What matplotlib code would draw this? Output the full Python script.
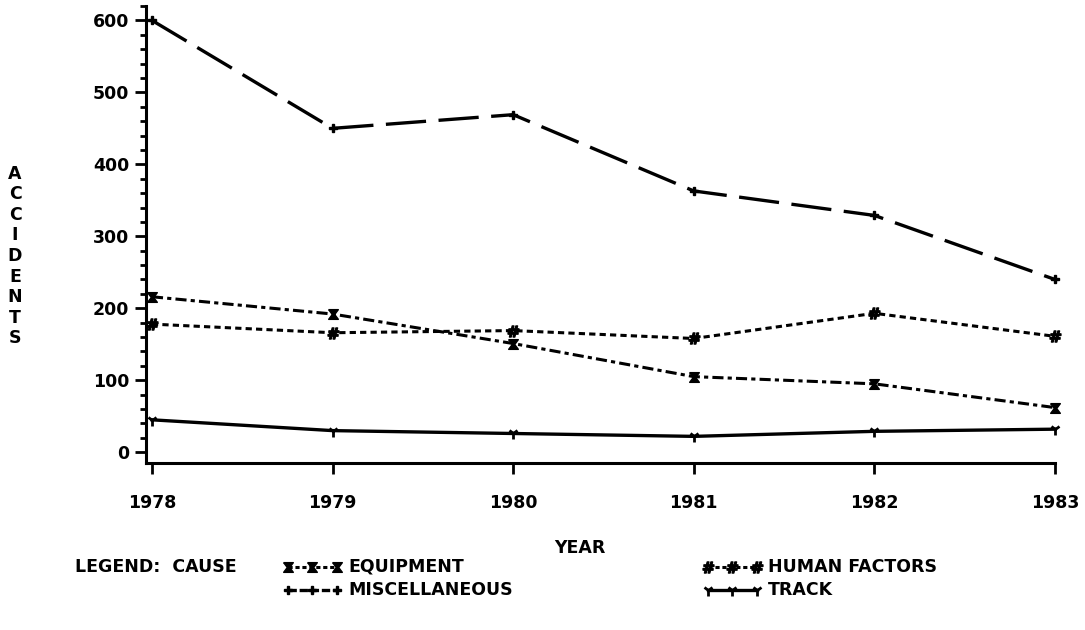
import matplotlib
matplotlib.use("Agg")
import matplotlib.pyplot as plt
from matplotlib.ticker import MultipleLocator

years = [1978, 1979, 1980, 1981, 1982, 1983]
equipment = [216, 192, 151, 105, 95, 62]
human_factors = [178, 166, 169, 158, 193, 161]
miscellaneous = [600, 450, 469, 363, 329, 240]
track = [45, 30, 26, 22, 29, 32]
y_ticks = [0, 100, 200, 300, 400, 500, 600]

plt.rcParams['font.family'] = ['DejaVu Sans']
plt.rcParams['font.weight'] = 'bold'
plt.rcParams['lines.scale_dashes'] = False
FS = 12.5

hourglass = [(-1, 1), (1, 1), (0.25, 0), (1, -1), (-1, -1), (-0.25, 0), (-1, 1)]

styles = {
    'EQUIPMENT': dict(color='black', lw=2.2, dashes=(8, 3, 3, 3), marker=hourglass, ms=7),
    'HUMAN FACTORS': dict(color='black', lw=2.2, dashes=(4.5, 3), marker=r'$\#$', ms=8),
    'MISCELLANEOUS': dict(color='black', lw=2.4, dashes=(29, 9), marker='P', ms=6),
    'TRACK': dict(color='black', lw=2.4, linestyle='-', marker='1', ms=8, mew=2.0),
}
series = {
    'EQUIPMENT': equipment,
    'HUMAN FACTORS': human_factors,
    'MISCELLANEOUS': miscellaneous,
    'TRACK': track,
}

fig = plt.figure(figsize=(10.85, 6.3), dpi=100)
W, H = 1085, 630
ax = fig.add_axes([146 / W, 1 - 463 / H, (1055 - 146) / W, (463 - 6) / H])

for name, vals in series.items():
    st = dict(styles[name])
    d = st.pop('dashes', None)
    ln, = ax.plot(years, vals, clip_on=False, **st)
    if d is not None:
        ln.set_dashes(d)

ax.set_xlim(1977.967, 1983.0)
ax.set_ylim(-15, 620)
for s in ['top', 'right']:
    ax.spines[s].set_visible(False)
for s in ['left', 'bottom']:
    ax.spines[s].set_linewidth(2.2)

ax.set_xticks(years)
ax.set_xticklabels([str(y) for y in years], fontsize=FS, fontweight='bold')
ax.set_yticks(y_ticks)
ax.set_yticklabels([str(v) for v in y_ticks], fontsize=FS, fontweight='bold')
ax.yaxis.set_minor_locator(MultipleLocator(20))
ax.tick_params(axis='x', direction='out', length=8, width=2, pad=14)
ax.tick_params(axis='y', which='major', direction='out', length=8, width=2, pad=4)
ax.tick_params(axis='y', which='minor', direction='out', length=4, width=2)

# y label as stacked letters
fig.text(15 / W, 1 - 256 / H, "\n".join("ACCIDENTS"), ha='center', va='center',
         fontsize=FS, fontweight='bold', linespacing=1.18)
# x label
fig.text(580 / W, 1 - 548 / H, "YEAR", ha='center', va='center',
         fontsize=FS, fontweight='bold')

# Legend
lax = fig.add_axes([0, 0, 1, 1], zorder=-1)
lax.set_xlim(0, W)
lax.set_ylim(H, 0)
lax.axis('off')
lax.text(75, 567, "LEGEND:  CAUSE", ha='left', va='center', fontsize=FS, fontweight='bold')
entries = [('EQUIPMENT', 285, 567), ('HUMAN FACTORS', 705, 567),
           ('MISCELLANEOUS', 285, 590), ('TRACK', 705, 590)]
for name, x0, y0 in entries:
    st = dict(styles[name])
    d = st.pop('dashes', None)
    ln, = lax.plot([x0 + 3, x0 + 27, x0 + 52], [y0, y0, y0], clip_on=False, **st)
    if d is not None:
        ln.set_dashes((3, 2) if name != 'MISCELLANEOUS' else (6, 2))
    lax.text(x0 + 63, y0, name, ha='left', va='center', fontsize=FS, fontweight='bold')

fig.savefig("out.png", dpi=100)
